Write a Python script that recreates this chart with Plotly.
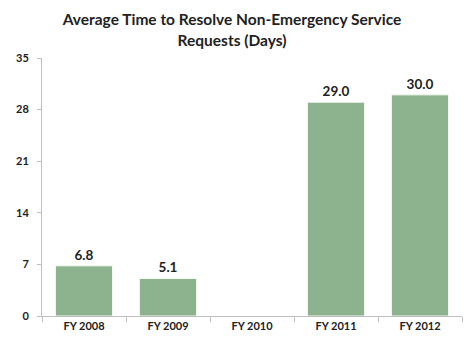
import plotly.graph_objects as go

categories = ["FY 2008", "FY 2009", "FY 2010", "FY 2011", "FY 2012"]
values = [6.8, 5.1, None, 29.0, 30.0]
labels = ["6.8", "5.1", "", "29.0", "30.0"]
y_ticks = [0, 7, 14, 21, 28, 35]

fig = go.Figure(go.Bar(
    x=categories, y=values, text=labels, textposition="outside",
    marker=dict(color="#8DB38E", line=dict(color="#f4f8f4", width=1)),
    textfont=dict(family="Lato", size=13.5, color="#222"),
    cliponaxis=False, width=0.68,
))

fig.update_layout(
    width=464, height=338,
    margin=dict(l=42, r=2, t=58, b=22),
    paper_bgcolor="white", plot_bgcolor="white",
    title=dict(text="<b>Average Time to Resolve Non-Emergency Service<br>Requests (Days)</b>",
               x=0.5, xanchor="center", y=0.925, yanchor="top",
               font=dict(family="Lato", size=15.5, color="#222")),
    showlegend=False,
    font=dict(family="Lato", color="#222"),
)
fig.update_traces(texttemplate="<b>%{text}</b>")
fig.update_xaxes(showline=True, linecolor="#bfbfbf", linewidth=1,
                 ticks="outside", tickson="boundaries", ticklen=5, tickcolor="#bfbfbf",
                 tickfont=dict(family="Lato", size=11, color="#222"),
                 tickprefix="<b>", ticksuffix="</b>")
fig.update_yaxes(range=[0, 35], tickvals=y_ticks,
                 ticktext=[f"<b>{v}</b>" for v in y_ticks],
                 showgrid=False, zeroline=False,
                 showline=True, linecolor="#bfbfbf", linewidth=1,
                 ticks="outside", ticklen=4, tickcolor="#bfbfbf",
                 tickfont=dict(family="Lato", size=11, color="#222"),
                 ticklabelstandoff=6)

fig.write_html("out.html")
